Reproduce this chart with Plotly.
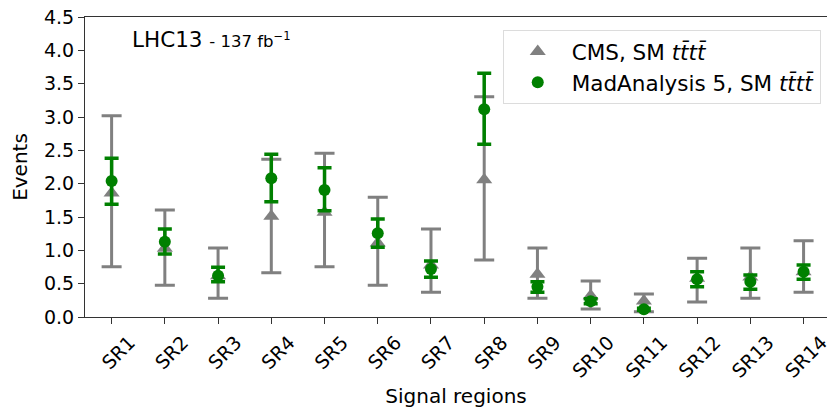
import plotly.graph_objects as go

regions = ["SR1", "SR2", "SR3", "SR4", "SR5", "SR6", "SR7", "SR8", "SR9", "SR10", "SR11", "SR12", "SR13", "SR14"]

cms_val = [1.86, 1.03, 0.62, 1.51, 1.57, 1.11, 0.78, 2.06, 0.64, 0.32, 0.24, 0.58, 0.60, 0.68]
cms_lo = [0.755, 0.475, 0.28, 0.665, 0.755, 0.475, 0.37, 0.855, 0.28, 0.12, 0.08, 0.225, 0.28, 0.37]
cms_hi = [3.02, 1.605, 1.035, 2.365, 2.455, 1.795, 1.32, 3.305, 1.035, 0.54, 0.345, 0.88, 1.035, 1.145]

ma5_val = [2.04, 1.13, 0.62, 2.08, 1.905, 1.255, 0.72, 3.115, 0.455, 0.235, 0.115, 0.565, 0.53, 0.68]
ma5_lo = [1.69, 0.945, 0.53, 1.73, 1.595, 1.045, 0.595, 2.59, 0.37, 0.20, 0.10, 0.455, 0.415, 0.565]
ma5_hi = [2.38, 1.32, 0.745, 2.44, 2.24, 1.47, 0.84, 3.655, 0.53, 0.275, 0.13, 0.68, 0.63, 0.78]

yticks = [0.0, 0.5, 1.0, 1.5, 2.0, 2.5, 3.0, 3.5, 4.0, 4.5]

GRAY = "#808080"
GREEN = "#008000"
FONT = "DejaVu Sans"
tttt = "<i>tt\u0304tt\u0304</i>"

fig = go.Figure()
fig.add_trace(go.Scatter(
    x=regions, y=cms_val, mode="markers",
    name="CMS, SM " + tttt,
    marker=dict(symbol="triangle-up", size=14, color=GRAY),
    error_y=dict(type="data", symmetric=False,
                 array=[h - v for h, v in zip(cms_hi, cms_val)],
                 arrayminus=[v - l for v, l in zip(cms_val, cms_lo)],
                 color=GRAY, thickness=3, width=10),
))
fig.add_trace(go.Scatter(
    x=regions, y=ma5_val, mode="markers",
    name="MadAnalysis 5, SM " + tttt,
    marker=dict(symbol="circle", size=12, color=GREEN),
    error_y=dict(type="data", symmetric=False,
                 array=[h - v for h, v in zip(ma5_hi, ma5_val)],
                 arrayminus=[v - l for v, l in zip(ma5_val, ma5_lo)],
                 color=GREEN, thickness=3.5, width=7),
))

fig.update_layout(
    width=831, height=408,
    margin=dict(l=85, r=0, t=17, b=91),
    paper_bgcolor="white", plot_bgcolor="white",
    font=dict(family=FONT, size=19, color="black"),
    showlegend=True,
    legend=dict(x=0.563, y=0.957, xanchor="left", yanchor="top",
                bgcolor="white", bordercolor="#dcdcdc", borderwidth=1,
                font=dict(size=21.5), itemwidth=58, tracegroupgap=0),
    annotations=[dict(
        x=0.061, y=0.925, xref="paper", yref="paper", xanchor="left", yanchor="middle",
        text="LHC13 <span style='font-size:16.5px'>- 137 fb<sup>\u22121</sup></span>",
        showarrow=False, font=dict(size=21.5, family=FONT),
    )],
)
fig.update_xaxes(
    type="category", categoryorder="array", categoryarray=regions,
    range=[-0.5, 13.44],
    showline=True, linecolor="#333333", linewidth=1, mirror=True,
    ticks="outside", ticklen=6, tickcolor="#333333",
    tickangle=-45, ticklabelshift=18,
    showgrid=False, zeroline=False,
    title=dict(text="Signal regions", font=dict(size=20), standoff=8),
)
fig.update_yaxes(
    range=[0, 4.5], tickvals=yticks, ticktext=[f"{v:.1f}" for v in yticks],
    showline=True, linecolor="#333333", linewidth=1,
    ticks="outside", ticklen=6, tickcolor="#333333",
    showgrid=False, zeroline=False,
    title=dict(text="Events", font=dict(size=20), standoff=10),
)

fig.write_html("out.html")
